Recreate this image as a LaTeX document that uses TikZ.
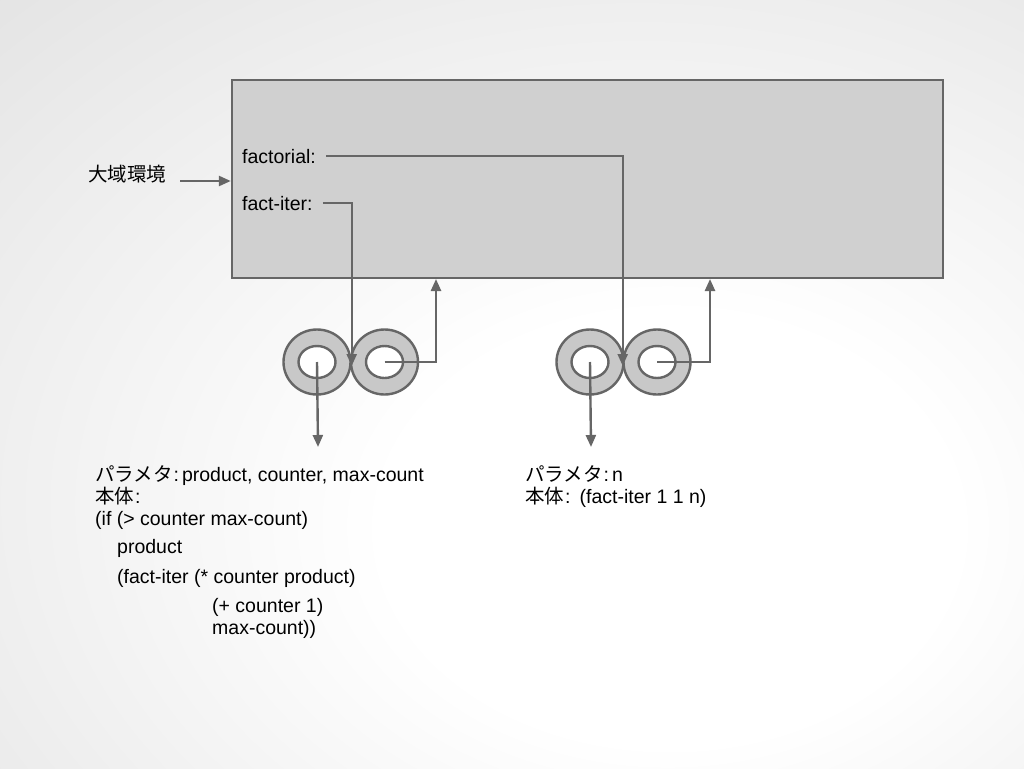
\documentclass[tikz,border=0pt]{standalone}
\usepackage{fontspec}
\setmainfont{Liberation Sans}
\newfontfamily\jp{Noto Sans CJK JP}
\usetikzlibrary{shapes.geometric,arrows.meta}
\pgfdeclareradialshading{slidebg}{\pgfpoint{9bp}{-11bp}}{color(0bp)=(white); color(14bp)=(white); color(62bp)=(gray!34); color(100bp)=(gray!34)}
\definecolor{linegray}{HTML}{666666}
\definecolor{envgray}{HTML}{D0D0D0}
\definecolor{ringgray}{HTML}{C8C8C8}

\begin{document}
\begin{tikzpicture}[
    x=1pt, y=-1pt,
    txt/.style={inner sep=0pt, font=\fontsize{19.5}{22}\selectfont, text=black},
    env/.style={rectangle, draw=linegray, line width=2.4pt, fill=envgray, minimum width=711pt, minimum height=198pt},
    ring/.style={ellipse, draw=linegray, line width=2.4pt, fill=ringgray, minimum width=67pt, minimum height=65pt, inner sep=0pt},
    hole/.style={ellipse, draw=linegray, line width=2.4pt, fill=white, minimum width=37pt, minimum height=32pt, inner sep=0pt},
    wire/.style={draw=linegray, line width=2.4pt},
    arrow/.style={wire, -{Triangle[length=12pt,width=10pt]}}
]
\useasboundingbox (0,0) rectangle (1024,768);
\shade[shading=slidebg] (0,0) rectangle (1024,768);

% global environment
\node[env] (genv) at (587.5,179) {};
\node[txt, anchor=base west] (global) at (88,181) {\jp 大域環境};
\node[txt, anchor=base west] (factorial) at (242,163) {factorial:};
\node[txt, anchor=base west] (factiter) at (242,210) {fact-iter:};

% procedure objects
\node[ring] (oL1) at (317,362) {};
\node[ring] (oR1) at (384.5,362) {};
\node[hole] (iL1) at (317,362) {};
\node[hole] (iR1) at (384.5,362) {};
\node[ring] (oL2) at (590,362) {};
\node[ring] (oR2) at (657,362) {};
\node[hole] (iL2) at (590,362) {};
\node[hole] (iR2) at (657,362) {};

\coordinate (up1) at (436,279);
\coordinate (up2) at (710,279);
\coordinate (dn1) at (318,447);
\coordinate (dn2) at (591,447);

% code texts
\node[txt, anchor=north west, align=left] (code1) at (95,465) {%
{\jp パラメタ}\hspace{1pt}:\hspace{3pt}product, counter, max-count\\
{\jp 本体}\hspace{1pt}:\\
(if (> counter max-count)\\[6pt]
\hspace*{22pt}product\\[8pt]
\hspace*{22pt}(fact-iter (* counter product)\\[7pt]
\hspace*{117pt}(+ counter 1)\\
\hspace*{117pt}max-count))};
\node[txt, anchor=north west, align=left] (code2) at (525,465) {%
{\jp パラメタ}\hspace{1pt}:\hspace{3pt}n\\
{\jp 本体}\hspace{1pt}:\hspace{9pt}(fact-iter 1 1 n)};

% connectors
\draw[arrow] (global.east |- 0,181) ++(14,0) -- (genv.west |- 0,181);
\draw[arrow] ([xshift=10pt]factorial.east) -| ([xshift=-2pt,yshift=-4pt]oL2.east);
\draw[arrow] ([xshift=10pt]factiter.east) -| ([yshift=-4pt]oL1.east);
\draw[arrow] (iR1.center) -| (up1);
\draw[arrow] (iR2.center) -| (up2);
\draw[arrow] (iL1.center) -- (dn1);
\draw[arrow] (iL2.center) -- (dn2);
\end{tikzpicture}
\end{document}
